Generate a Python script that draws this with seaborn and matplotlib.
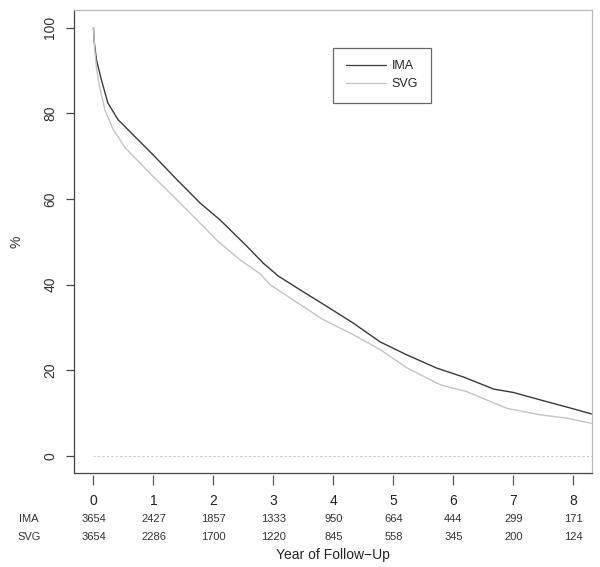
import matplotlib
matplotlib.use('Agg')
import matplotlib.pyplot as plt
import seaborn as sns
import pandas as pd

sns.set_style("white")
plt.rcParams['font.family'] = ['Liberation Sans', 'DejaVu Sans']

# survival curves (years, %)
ima_t = [0, 0.01, 0.05, 0.13, 0.24, 0.41, 0.63, 0.88, 1.0, 1.39, 1.78, 2.11, 2.56, 2.83,
         3.08, 3.44, 3.89, 4.33, 4.78, 5.22, 5.72, 6.17, 6.67, 7.0, 7.44, 7.89, 8.3]
ima_v = [100, 97, 92.5, 87.9, 82.4, 78.5, 75.4, 71.9, 70.2, 64.5, 59, 55.1, 48.9, 45,
         42, 38.8, 34.9, 31, 26.6, 23.6, 20.5, 18.4, 15.6, 14.8, 13.1, 11.4, 9.8]
svg_t = [0, 0.02, 0.05, 0.1, 0.19, 0.33, 0.53, 0.67, 0.94, 1.39, 1.83, 2.06, 2.44, 2.78,
         2.94, 3.33, 3.83, 4.33, 4.78, 5.22, 5.78, 6.22, 6.89, 7.44, 7.89, 8.3]
svg_v = [100, 95, 90.5, 86.3, 80.8, 76.2, 71.9, 69.9, 66, 59.8, 53.6, 50.3, 45.8, 42.5,
         40, 36.4, 31.8, 28.3, 24.8, 20.6, 16.6, 15.0, 11.1, 9.6, 8.8, 7.6]

# numbers at risk
risk_years = [0, 1, 2, 3, 4, 5, 6, 7, 8]
ima_risk = [3654, 2427, 1857, 1333, 950, 664, 444, 299, 171]
svg_risk = [3654, 2286, 1700, 1220, 845, 558, 345, 200, 124]

df = pd.concat([
    pd.DataFrame({'year': ima_t, 'pct': ima_v, 'group': 'IMA'}),
    pd.DataFrame({'year': svg_t, 'pct': svg_v, 'group': 'SVG'}),
], ignore_index=True)

fig = plt.figure(figsize=(6, 5.67), dpi=100)
ax = fig.add_axes([0.1233, 0.1658, 0.9867 - 0.1233, 0.9815 - 0.1658])

sns.lineplot(data=df, x='year', y='pct', hue='group', estimator=None, sort=True,
             palette={'IMA': '#3a3a3a', 'SVG': '#c4c4c4'}, lw=1, ax=ax)
ax.axhline(0, xmin=0.037, color='#c8c8c8', lw=0.8, ls=(0, (2, 2)))

ax.set_xlim(-0.325, 8.31)
ax.set_ylim(-4, 104)

for s in ax.spines.values():
    s.set_color('#444444')
    s.set_linewidth(0.9)
ax.spines['top'].set_color('#bbbbbb')
ax.spines['right'].set_color('#bbbbbb')

ax.set_yticks([0, 20, 40, 60, 80, 100])
ax.set_yticklabels(['0', '20', '40', '60', '80', '100'], rotation=90, va='center', fontsize=10)
ax.tick_params(axis='y', direction='out', length=6, width=0.9, color='#444444',
               left=True, pad=6, labelcolor='#333333')
ax.set_ylabel('%', fontsize=10, color='#333333', labelpad=14)

# x ticks drawn slightly below the box, like R's axis()
ax.set_xticks([])
ax.set_xlabel('')
sec = ax.secondary_xaxis(-0.004)
sec.spines['bottom'].set_visible(False)
sec.set_xticks(risk_years)
sec.set_xticklabels([str(y) for y in risk_years], fontsize=10, color='#222222')
sec.tick_params(direction='out', length=7, width=0.9, color='#555555', pad=7)

tr = ax.get_xaxis_transform()
for x, a, b in zip(risk_years, ima_risk, svg_risk):
    ax.text(x, -0.1, str(a), transform=tr, ha='center', va='center', fontsize=8, color='#333333')
    ax.text(x, -0.139, str(b), transform=tr, ha='center', va='center', fontsize=8, color='#333333')
fig.text(29 / 600, 1 - 519 / 567, 'IMA', ha='center', va='center', fontsize=8, color='#333333')
fig.text(29 / 600, 1 - 537 / 567, 'SVG', ha='center', va='center', fontsize=8, color='#333333')
fig.text(0.5 * (74 + 592) / 600, 1 - 555 / 567, 'Year of Follow\u2212Up', ha='center', va='center',
         fontsize=10, color='#222222')

leg = ax.legend(loc='upper left', bbox_to_anchor=((333 - 74) / 518, (473 - 48) / 462.5),
                frameon=True, fancybox=False, fontsize=9, handlelength=3.2,
                borderpad=1.0, labelspacing=0.45, handletextpad=0.5, borderaxespad=0)
leg.get_frame().set_edgecolor('#444444')
leg.get_frame().set_linewidth(0.9)
for line in leg.get_lines():
    line.set_linewidth(0.9)

fig.savefig('out.png', dpi=100)
